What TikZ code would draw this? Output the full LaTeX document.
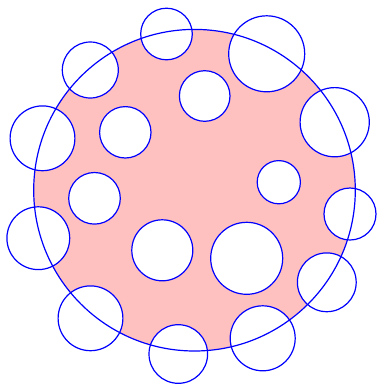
\documentclass[tikz,border=0pt]{standalone}
\usepackage{tikz}
\definecolor{discpink}{RGB}{255,192,192}
\definecolor{rimblue}{RGB}{0,0,255}

\begin{document}
\begin{tikzpicture}[x=1pt,y=-1pt,
  rim/.style={draw=rimblue,line width=1.2pt}]
  \useasboundingbox (0,0) rectangle (376,384);
  % the big disc
  \fill[discpink] (194.5,190.2) circle (160.8pt);
  % the holes
  \foreach \cx/\cy/\r in {166.5/34/25.8, 90.3/70/28, 266.7/53.8/38, 204.7/96/25.3,
      42.5/138.3/32.4, 125.3/132.3/25.7, 334.7/122.2/34.6, 278.8/182.2/21.6,
      94.5/198.3/25.8, 350/214/26, 38.3/238.2/31.4, 162.3/250.3/30.5,
      246.7/258.3/36, 326.8/282.3/29.4, 90.5/318.3/32.4, 178.3/354/29.3,
      262.7/338.3/32.5}{
    \fill[white] (\cx,\cy) circle (\r pt);
  }
  % outlines
  \draw[rim] (194.5,190.2) circle (160.8pt);
  \foreach \cx/\cy/\r in {166.5/34/25.8, 90.3/70/28, 266.7/53.8/38, 204.7/96/25.3,
      42.5/138.3/32.4, 125.3/132.3/25.7, 334.7/122.2/34.6, 278.8/182.2/21.6,
      94.5/198.3/25.8, 350/214/26, 38.3/238.2/31.4, 162.3/250.3/30.5,
      246.7/258.3/36, 326.8/282.3/29.4, 90.5/318.3/32.4, 178.3/354/29.3,
      262.7/338.3/32.5}{
    \draw[rim] (\cx,\cy) circle (\r pt);
  }
\end{tikzpicture}
\end{document}
